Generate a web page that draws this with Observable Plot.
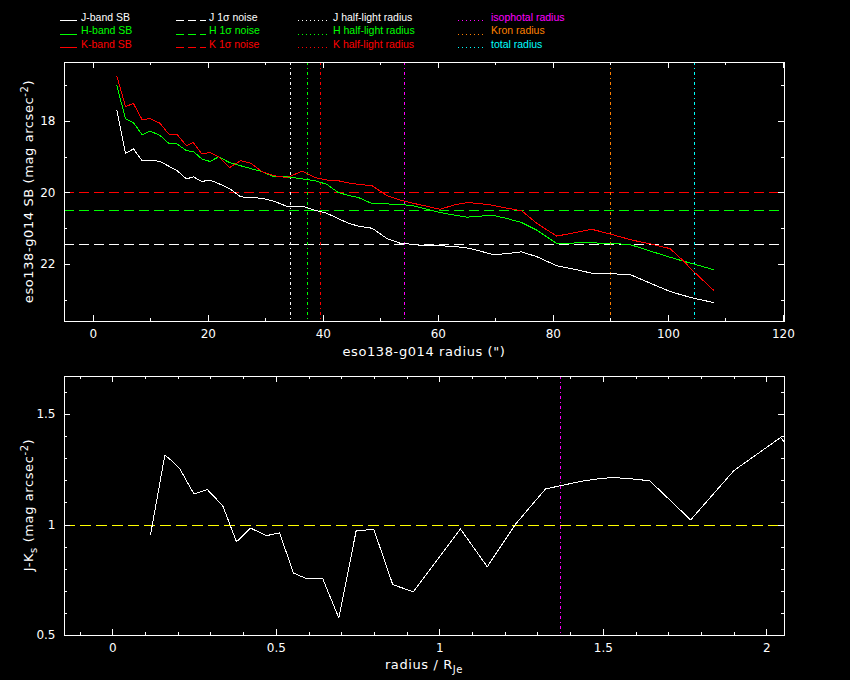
<!DOCTYPE html>
<html><head><meta charset="utf-8">
<script src="https://cdn.jsdelivr.net/npm/d3@7"></script>
<script src="https://cdn.jsdelivr.net/npm/@observablehq/plot@0.6"></script>
<style>
html,body{margin:0;padding:0;background:#000;}
#chart{width:850px;height:680px;background:#000;overflow:hidden;}
#chart svg{display:block;}
</style></head><body><div id="chart"></div>
<script>
// ---------- data ----------
const radius = [4.1,5.6,7.0,8.5,9.9,11.6,13.1,14.6,16.2,17.4,18.9,20.3,21.8,23.7,25.6,27.4,29.3,31.4,33.7,36.4,38.6,40.6,42.6,44.4,46.1,48.5,51.1,53.4,55.6,57.6,60.3,62.7,65.0,67.3,69.6,72.0,74.5,77.2,80.6,84.1,86.7,89.9,93.4,96.9,100.3,102.4,104.4,107.9];
const sbJ = [17.69,18.89,18.77,19.10,19.08,19.12,19.25,19.38,19.61,19.55,19.68,19.64,19.74,19.88,20.11,20.13,20.15,20.23,20.38,20.37,20.49,20.57,20.72,20.85,20.93,20.99,21.28,21.41,21.44,21.48,21.48,21.50,21.54,21.63,21.73,21.70,21.65,21.79,22.04,22.15,22.25,22.26,22.29,22.53,22.76,22.86,22.95,23.07];
const sbH = [17.0,17.92,18.04,18.37,18.27,18.39,18.61,18.63,18.82,18.84,19.05,19.12,18.99,19.15,19.24,19.32,19.40,19.55,19.55,19.61,19.66,19.76,19.99,20.07,20.13,20.30,20.31,20.32,20.36,20.44,20.55,20.62,20.68,20.65,20.63,20.72,20.83,21.05,21.42,21.40,21.40,21.41,21.45,21.63,21.80,21.90,21.99,22.15];
const sbK = [16.73,17.58,17.50,17.95,17.92,18.05,18.35,18.37,18.68,18.59,18.91,18.87,18.99,19.29,19.10,19.17,19.40,19.52,19.57,19.39,19.57,19.64,19.66,19.72,19.76,19.80,20.08,20.20,20.29,20.36,20.46,20.34,20.27,20.30,20.35,20.43,20.50,20.86,21.21,21.10,21.02,21.15,21.31,21.43,21.56,21.87,22.20,22.73];
const noiseBands = ["J","H","K"];
const noiseLevels = [21.45, 20.5, 20.0];
const halfLightRadii = [34.3, 37.2, 39.6];      // J, H, K half-light radius (")
const otherRadiiNames = ["isophotal","Kron","total"];
const otherRadii = [54.1, 90.0, 104.6];
const ratioR = [0.115,0.159,0.182,0.205,0.248,0.289,0.336,0.378,0.421,0.470,0.510,0.552,0.594,0.642,0.691,0.744,0.798,0.856,0.919,1.063,1.145,1.232,1.323,1.369,1.440,1.490,1.532,1.593,1.642,1.767,1.899,2.042,2.09];
const colorJK = [0.955,1.317,1.288,1.253,1.140,1.160,1.087,0.924,0.986,0.952,0.964,0.783,0.756,0.756,0.579,0.974,0.980,0.730,0.698,0.982,0.811,1.005,1.163,1.178,1.200,1.210,1.215,1.208,1.200,1.023,1.246,1.396,1.31];
const jkReference = 1.0;
const isoRatio = 1.37;
const topXTicks = [0,20,40,60,80,100,120];
const topYTicks = [18,20,22];
const botXTicks = [0,0.5,1,1.5,2];
const botYTicks = [0.5,1,1.5];
const legendCols = [
  ["J-band SB","H-band SB","K-band SB"],
  ["J 1σ noise","H 1σ noise","K 1σ noise"],
  ["J half-light radius","H half-light radius","K half-light radius"],
  ["isophotal radius","Kron radius","total radius"]
];

// ---------- styles ----------
const WHITE="#ffffff", GREEN="#00ff00", RED="#ff0000", MAGENTA="#ff00ff", ORANGE="#ff8000", CYAN="#00ffff", YELLOW="#ffff00";
const bandColors = [WHITE, GREEN, RED];
const otherColors = [MAGENTA, ORANGE, CYAN];
const legendColors = [bandColors, bandColors, bandColors, otherColors];
const legendDash = [null, "8,4", "1,3", "1,3"];
const DASH = "10,5", DOTV = "3,3,1,3";
const FONT = "DejaVu Sans, sans-serif";
const CR = "crispEdges";

const root = d3.select("#chart");

// ---------- legend ----------
const leg = root.append("svg").attr("width",850).attr("height",55);
const lx0=[60,176,298,458], lx1=[77,206,330,484], tx=[81,209,333,491];
legendCols.forEach((col,ci)=>col.forEach((lab,ri)=>{
  const y = 20.5 + ri*13.7;
  const c = legendColors[ci][ri];
  leg.append("line").attr("x1",lx0[ci]).attr("x2",lx1[ci]).attr("y1",y).attr("y2",y)
    .attr("stroke",c).attr("stroke-width",1).attr("stroke-dasharray",legendDash[ci]).attr("shape-rendering",CR);
  leg.append("text").attr("x",tx[ci]).attr("y",y).attr("fill",c)
    .attr("font-family","Liberation Sans, Arial, sans-serif").attr("font-size",10.5).text(lab);
}));

// ---------- top panel ----------
const W = 720, H = 259;
const profiles = [sbJ, sbH, sbK].map((arr,b)=>radius.map((r,i)=>({r, sb: arr[i], band: b})));
const frameTicks = (xMaj, xMin, yMaj, yMin) => [
  Plot.tickX(xMaj,{insetTop:H-6, stroke:WHITE, shapeRendering:CR}),
  Plot.tickX(xMaj,{insetBottom:H-6, stroke:WHITE, shapeRendering:CR}),
  Plot.tickX(xMin,{insetTop:H-3, stroke:WHITE, shapeRendering:CR}),
  Plot.tickX(xMin,{insetBottom:H-3, stroke:WHITE, shapeRendering:CR}),
  Plot.tickY(yMaj,{insetRight:W-6, stroke:WHITE, shapeRendering:CR}),
  Plot.tickY(yMaj,{insetLeft:W-6, stroke:WHITE, shapeRendering:CR}),
  Plot.tickY(yMin,{insetRight:W-3, stroke:WHITE, shapeRendering:CR}),
  Plot.tickY(yMin,{insetLeft:W-3, stroke:WHITE, shapeRendering:CR})
];
const common = {
  width:850, marginLeft:64, marginRight:66,
  style:{background:"#000", color:"#fff", fontFamily:FONT, fontSize:"12px"}
};
const topPlot = Plot.plot({
  ...common, height:311, marginTop:7, marginBottom:45,
  x:{domain:[-5,120.2]},
  y:{domain:[16.35,23.6], reverse:true},
  marks:[
    ...noiseLevels.map((v,i)=>Plot.ruleY([v],{stroke:bandColors[i], strokeDasharray:DASH, strokeWidth:1, shapeRendering:CR})),
    ...halfLightRadii.map((v,i)=>Plot.ruleX([v],{stroke:bandColors[i], strokeDasharray:DOTV, strokeWidth:1, shapeRendering:CR})),
    ...otherRadii.map((v,i)=>Plot.ruleX([v],{stroke:otherColors[i], strokeDasharray:DOTV, strokeWidth:1, shapeRendering:CR})),
    ...profiles.map((p,i)=>Plot.line(p,{x:"r", y:"sb", stroke:bandColors[i], strokeWidth:1, shapeRendering:CR})),
    ...frameTicks(topXTicks, d3.range(10,121,20), topYTicks, [17,19,21,23]),
    Plot.axisX({ticks:topXTicks, tickSize:0, tickPadding:8, label:null}),
    Plot.axisY({ticks:topYTicks, tickSize:0, tickPadding:9, label:null}),
    Plot.frame({stroke:WHITE, strokeWidth:1, shapeRendering:CR})
  ]
});
root.node().appendChild(topPlot);
const ts = d3.select(topPlot);
ts.append("text").attr("x",424).attr("y",301).attr("text-anchor","middle").attr("fill",WHITE)
  .attr("font-family",FONT).attr("font-size",13).attr("letter-spacing",0.6)
  .text("eso138-g014 radius (\")");
const tyl = ts.append("text").attr("transform","translate(33,136.5) rotate(-90)").attr("text-anchor","middle")
  .attr("fill",WHITE).attr("font-family",FONT).attr("font-size",13).attr("letter-spacing",0.6);
tyl.append("tspan").text("eso138-g014 SB (mag arcsec");
tyl.append("tspan").attr("dy",-5).attr("font-size",10).text("-2");
tyl.append("tspan").attr("dy",5).text(")");

// ---------- bottom panel ----------
const jk = ratioR.map((x,i)=>({x, c: colorJK[i]}));
const botPlot = Plot.plot({
  ...common, height:314, marginTop:10, marginBottom:45,
  x:{domain:[-0.148,2.054]},
  y:{domain:[0.5,1.672]},
  marks:[
    Plot.ruleY([jkReference],{stroke:YELLOW, strokeDasharray:"11,5", strokeWidth:1, shapeRendering:CR}),
    Plot.ruleX([isoRatio],{stroke:MAGENTA, strokeDasharray:DOTV, strokeWidth:1, shapeRendering:CR}),
    Plot.line(jk,{x:"x", y:"c", stroke:WHITE, strokeWidth:1, clip:true, shapeRendering:CR}),
    ...frameTicks(botXTicks, d3.range(-1,21).map(k=>k/10).filter(v=>Math.round(v*10)%5!==0),
                  botYTicks, d3.range(6,17).map(k=>k/10).filter(v=>Math.round(v*10)%5!==0)),
    Plot.axisX({ticks:botXTicks, tickSize:0, tickPadding:8, label:null, tickFormat:d=>String(d)}),
    Plot.axisY({ticks:botYTicks, tickSize:0, tickPadding:9, label:null, tickFormat:d=>String(d)}),
    Plot.frame({stroke:WHITE, strokeWidth:1, shapeRendering:CR})
  ]
});
root.node().appendChild(botPlot);
const bs = d3.select(botPlot);
const bxl = bs.append("text").attr("x",424).attr("y",303).attr("text-anchor","middle").attr("fill",WHITE)
  .attr("font-family",FONT).attr("font-size",13).attr("letter-spacing",0.6);
bxl.append("tspan").text("radius / R");
bxl.append("tspan").attr("dy",4).attr("font-size",10).text("Je");
const byl = bs.append("text").attr("transform","translate(33,139) rotate(-90)").attr("text-anchor","middle")
  .attr("fill",WHITE).attr("font-family",FONT).attr("font-size",13).attr("letter-spacing",0.6);
byl.append("tspan").text("J-K");
byl.append("tspan").attr("dy",4).attr("font-size",10).text("s");
byl.append("tspan").attr("dy",-4).text(" (mag arcsec");
byl.append("tspan").attr("dy",-5).attr("font-size",10).text("-2");
byl.append("tspan").attr("dy",5).text(")");
</script></body></html>
